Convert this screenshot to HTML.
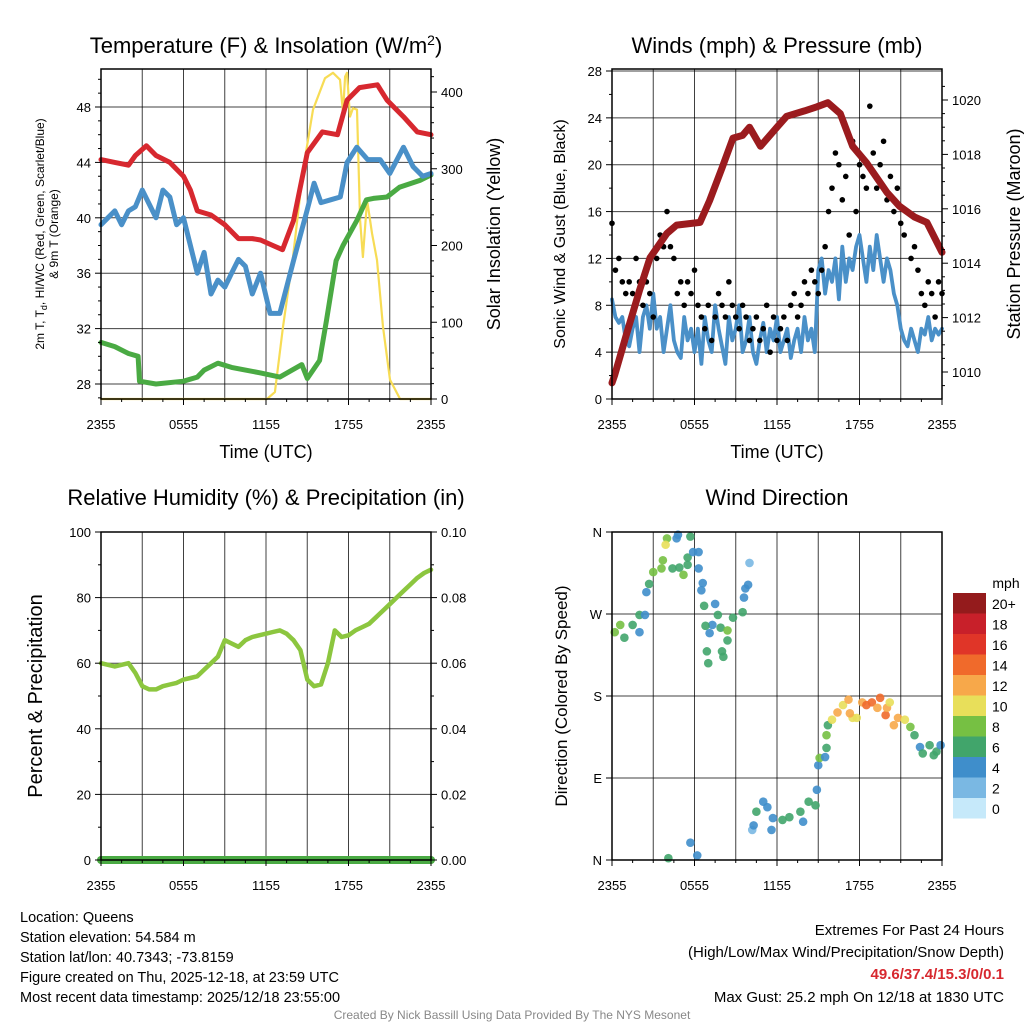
<!DOCTYPE html>
<html><head><meta charset="utf-8"><style>
body{margin:0;background:#fff;}
svg{display:block;font-family:"Liberation Sans",sans-serif;}
</style></head><body>
<svg id="c" width="1024" height="1024" viewBox="0 0 1024 1024"></svg>
<script>
// ---- Temperature panel data ----
const tT=[0,1,2,2.5,3.3,4,5,6,6.5,7,8,9,10,11,11.6,12.5,13.2,14,15,16.1,17.2,17.9,18.8,20.1,20.8,22,23,24];
const tempF=[44.2,44,43.8,44.5,45.2,44.5,44,43,42,40.5,40.2,39.5,38.5,38.5,38.4,38,37.7,39.8,44.7,46.2,46,48.5,49.4,49.6,48.5,47.3,46.2,46];
const tB=[0,0.5,1,1.5,2,2.5,3,3.5,4,4.5,5,5.5,6,6.5,7,7.5,8,8.5,9,9.5,10,10.5,11,11.6,12.3,13,14,15,15.5,16,16.7,17.4,17.9,18.6,19.4,20.3,21,22,22.7,23.4,24];
const chillF=[39.5,40,40.5,39.5,40.5,40.8,42,41,40,42,41.5,39.5,40,38,36,37.5,34.5,35.5,35,36,37,36.5,34.5,36,33.1,33.1,36.9,40.6,42.5,41.1,41.3,41.5,44,45.1,44.2,44.2,43.2,45.1,43.7,43,43.2];
const tD=[0,1,2,2.7,2.8,4,6,7,7.5,8.5,9.5,10.5,11.6,13,14.6,15,15.9,16.4,17.1,17.6,18.6,19.3,19.8,20.8,21.7,23.2,24];
const dewF=[31,30.7,30.2,30,28.2,28,28.2,28.5,29,29.5,29.2,29,28.8,28.5,29.4,28.4,29.7,32.6,36.9,38,39.8,41.3,41.4,41.5,42.2,42.7,43.1];
const tS=[0,12.07,12.65,13.24,13.96,14.69,15.42,16.29,16.87,17.38,17.6,17.75,17.89,18.11,18.33,18.62,18.84,19.05,19.35,19.71,20.07,20.51,21.02,21.75,24];
const solar=[0,0,9,94,185,298,377,418,425,416,373,420,425,368,379,377,233,185,259,216,181,94,25,0,0];
const tempTicks=[28,32,36,40,44,48];
const solarTicks=[0,100,200,300,400];
const timeTickLabels=["2355","0555","1155","1755","2355"];
// ---- Wind panel data (15-min) ----
const wind=[8.5,7,6.5,7,5,4.5,6,7,4,7,8,6,9,6,7,4,6,8,5,4,3.5,7,5,6,4,6,3,7,5,4,8,6,4.5,3,7,5,6,8,4,5,7,4,3,5,6.5,4,6,5,7,4,5,6,3.5,5,6,4,7,5,6,4,11,12,9,11,10,12,8.5,13,10,12,11,13,14,12,10,13,11,14,12,10,12,11,9,8,6,5,4.5,6,5,4,6,5.5,7,5,6,5.5,6];
const gust=[15,11,12,10,9,10,9,12,10,8,10,9,7,12,14,13,16,13,12,9,10,8,10,9,11,8,7,6,8,5,7,9,8,7,10,8,7,6,8,7,5,6,7,5,6,8,4,7,5,6,7,5,8,9,7,8,10,9,11,10,9,11,13,16,18,21,20,17,19,14,22,16,20,19,18,25,21,18,20,22,17,19,16,18,15,14,16,12,13,11,9,8,10,9,7,10,9];
const tP=[0,0.2,1,2,2.76,4,4.7,6.4,7.1,8,8.8,9.5,10,10.8,12,12.7,14,14.9,15.7,16.6,17.5,18.5,20,20.9,22,22.9,24];
const pressure=[1009.6,1009.9,1011.3,1013,1014.2,1015.1,1015.4,1015.5,1016.3,1017.5,1018.6,1018.7,1019,1018.3,1019,1019.4,1019.6,1019.75,1019.9,1019.5,1018.3,1017.7,1016.6,1016.1,1015.7,1015.5,1014.4];
const windTicks=[0,4,8,12,16,20,24,28];
const presTicks=[1010,1012,1014,1016,1018,1020];
// ---- RH panel data (30-min) ----
const rh=[60,59.5,59,59.5,60,57,53,52,52,53,53.5,54,55,55.5,56,58,60,62,67,66,65,67,68,68.5,69,69.5,70,69,67,64,55,53,53.5,60,70,68,68.5,70,71,72,74,76,78,80,82,84,86,87.5,88.5];
const precip=[0,0,0,0,0,0,0,0,0,0,0,0,0,0,0,0,0,0,0,0,0,0,0,0,0];
const rhTicks=[0,20,40,60,80,100];
const precipTicks=["0.00","0.02","0.04","0.06","0.08","0.10"];
// ---- Wind direction data ----
const dirT=[0.2,0.6,0.9,1.5,2,2.4,2,2.5,2.7,3,3.6,3.7,4,3.9,4.4,4.7,4.8,4.9,5.2,5.5,5.5,5.7,5.9,6.3,6.3,6.6,6.5,7.5,6.7,7.7,7.3,6.8,7.1,7.9,8.4,8.4,6.9,7,8,8.1,8.8,9.5,9.6,9.7,9.9,10,5.7,6.2,4.1,10.2,10.3,10.5,11,11.3,11.7,11.6,12.4,12.9,13.7,13.9,14.3,14.8,14.9,15,15.1,15.5,15.6,15.6,15.7,16,16.4,16.8,17.2,17.5,17.8,17.3,18.2,18.5,18.9,19.5,19.3,19.9,20,20.2,20.5,20.8,21.3,21.7,22,22.4,22.6,23.1,23.6,23.9,23.4];
const dirDeg=[250,258,244,258,269,269,250,294,303,316,320,329,353,346,320,353,357,321,313,324,332,355,338,338,320,304,296,281,279,269,258,257,249,255,252,241,229,216,229,223,266,272,288,298,302,326,19,5,2,33,38,53,64,58,46,33,44,47,53,42,64,60,77,104,112,113,123,137,148,154,162,170,176,156,156,161,173,170,173,178,167,159,167,173,148,156,154,146,137,124,117,126,119,126,115];
const dirSpd=[7,8,6,6,5,4,4,4,6,7,8,8,7,10,6,4,4,6,8,6,6,6,4,4,4,4,4,4,6,6,4,6,4,6,8,6,6,6,6,6,6,6,4,4,4,2,4,4,6,2,4,6,4,4,4,4,6,6,6,4,6,6,4,4,8,4,6,8,6,10,12,10,12,10,10,12,12,14,14,14,12,14,12,10,12,12,10,8,6,4,6,6,6,4,6];
const cbLabels=["20+","18","16","14","12","10","8","6","4","2","0"];

const NS="http://www.w3.org/2000/svg";
const svg=document.getElementById('c');
function mk(tag,attrs,parent){const e=document.createElementNS(NS,tag);for(const k in attrs)e.setAttribute(k,attrs[k]);(parent||svg).appendChild(e);return e;}
function txt(s,x,y,size,anchor,parent,extra){const e=mk('text',Object.assign({x:x,y:y,'font-size':size,'text-anchor':anchor||'middle',fill:'#000'},extra||{}),parent);e.textContent=s;return e;}
const SPDCOL=["#c6e9fa","#7ab8e3","#3f8ecb","#41a56b","#76c043","#e8df5a","#f7a84a","#f06a2b","#e03528","#c8202a","#941b1c"];
function spdColor(s){return SPDCOL[Math.min(10,Math.round(s/2))];}

function panel(name,x0,y0,x1,y1){
  const g=mk('g',{},svg);
  
  
  const xs=h=>x0+(x1-x0)*h/24;
  return {g,x0,y0,x1,y1,xs};
}
function lin(d0,d1,p0,p1){return v=>p0+(v-d0)*(p1-p0)/(d1-d0);}
function grid(P,ys,yvals){
  const gg=mk('g',{},P.g);
  
  
  for(let h=3;h<24;h+=3){const x=P.xs(h);mk('line',{x1:x,x2:x,y1:P.y0,y2:P.y1,stroke:'#000','stroke-width':1,'stroke-opacity':0.75},gg);}
  yvals.forEach(v=>{const y=ys(v);mk('line',{x1:P.x0,x2:P.x1,y1:y,y2:y,stroke:'#000','stroke-width':1,'stroke-opacity':0.75},gg);});
}
function frame(P){
  const r=mk('rect',{x:P.x0,y:P.y0,width:P.x1-P.x0,height:P.y1-P.y0,fill:'none',stroke:'#000','stroke-width':1.5},P.g);
  
  
}
function xAxis(P){
  const g=mk('g',{},P.g);
  
  
  for(let h=0;h<=24;h+=1.5){const x=P.xs(h);const big=(h%6===0);mk('line',{x1:x,x2:x,y1:P.y1,y2:P.y1+(big?6:3),stroke:'#000'},g);}
  timeTickLabels.forEach((s,i)=>txt(s,P.xs(i*6),P.y1+30,13,'middle',g));
}
function yAxisL(P,ys,vals,labels,minor){
  const g=mk('g',{},P.g);
  
  
  vals.forEach((v,i)=>{const y=ys(v);mk('line',{x1:P.x0-6,x2:P.x0,y1:y,y2:y,stroke:'#000'},g);txt(labels[i],P.x0-10,y+5,13,'end',g);});
  (minor||[]).forEach(v=>{const y=ys(v);mk('line',{x1:P.x0-3,x2:P.x0,y1:y,y2:y,stroke:'#000'},g);});
}
function yAxisR(P,ys,vals,labels,minor){
  const g=mk('g',{},P.g);
  
  
  vals.forEach((v,i)=>{const y=ys(v);mk('line',{x1:P.x1,x2:P.x1+6,y1:y,y2:y,stroke:'#000'},g);txt(labels[i],P.x1+10,y+5,13,'start',g);});
  (minor||[]).forEach(v=>{const y=ys(v);mk('line',{x1:P.x1,x2:P.x1+3,y1:y,y2:y,stroke:'#000'},g);});
}
function line(P,ts,vs,ys,color,w,name){
  const d=ts.map((t,i)=>(i?'L':'M')+P.xs(t).toFixed(1)+','+ys(vs[i]).toFixed(1)).join('');
  const p=mk('path',{d:d,fill:'none',stroke:color,'stroke-width':w,'stroke-linejoin':'round','stroke-linecap':'round'},P.g);
  
  
}
function rotLabel(s,x,y,size,parent,name){
  const e=txt(s,x,y,size,'middle',parent,{transform:`rotate(-90 ${x} ${y})`});
  
  
  return e;
}
function range(a,b,s){const r=[];for(let v=a;v<=b+1e-9;v+=s)r.push(v);return r;}

// ===== Panel 1 =====
{
const P=panel('temperature-panel',101,69,431,399);
const yT=lin(28,48,384,107), yS=lin(0,400,399,92);
grid(P,yT,tempTicks);
line(P,tS,solar,yS,'#f7dc55',2.2,'solar-insolation-line');
line(P,tD,dewF,yT,'#4aaa43',5,'dewpoint-line');
line(P,tB,chillF,yT,'#4a90c8',5,'windchill-line');
line(P,tT,tempF,yT,'#d7282f',5,'temperature-line');
frame(P);xAxis(P);
yAxisL(P,yT,tempTicks,tempTicks.map(String),range(27,50,1).filter(v=>v%4))
yAxisR(P,yS,solarTicks,solarTicks.map(String),range(20,420,20).filter(v=>v%100));
const t=txt('',266,53,22,'middle',P.g);t.innerHTML='Temperature (F) &amp; Insolation (W/m<tspan dy="-8" font-size="14">2</tspan><tspan dy="8">)</tspan>';

txt('Time (UTC)',266,458,18,'middle',P.g);
const lg=mk('text',{x:0,y:0,'font-size':12,'text-anchor':'middle',transform:'translate(44 234) rotate(-90)'},P.g);

lg.innerHTML='<tspan x="0" dy="0">2m T, T<tspan font-size="9" dy="3">d</tspan><tspan dy="-3">, HI/WC (Red, Green, Scarlet/Blue)</tspan></tspan><tspan x="0" dy="14">&amp; 9m T (Orange)</tspan>';
rotLabel('Solar Insolation (Yellow)',500,234,18,P.g,'right-y-axis-title');
}
// ===== Panel 2 =====
{
const P=panel('winds-pressure-panel',612,69,942,399);
const yW=lin(0,28,399,71), yP=lin(1010,1020,372,100);
grid(P,yW,windTicks);
const tw=wind.map((_,i)=>i*0.25);
line(P,tw,wind,yW,'#4a90c8',3.8,'sonic-wind-line');
const gg=mk('g',{},P.g);
gust.forEach((v,i)=>{mk('circle',{cx:P.xs(i*0.25),cy:yW(v),r:2.8,fill:'#000'},gg);});
line(P,tP,pressure,yP,'#9b1b1e',7,'station-pressure-line');
frame(P);xAxis(P);
yAxisL(P,yW,windTicks,windTicks.map(String),range(2,26,4));
yAxisR(P,yP,presTicks,presTicks.map(String),range(1009.5,1020.5,0.5).filter(v=>Math.abs(v%2)>1e-6));
txt('Winds (mph) & Pressure (mb)',777,53,22,'middle',P.g);
txt('Time (UTC)',777,458,18,'middle',P.g);
rotLabel('Sonic Wind & Gust (Blue, Black)',565,234,16,P.g,'left-y-axis-title');
rotLabel('Station Pressure (Maroon)',1020,234,18,P.g,'right-y-axis-title');
}
// ===== Panel 3 =====
{
const P=panel('humidity-panel',101,532,431,860);
const yR=lin(0,100,860,532), yPr=lin(0,0.1,860,532);
grid(P,yR,rhTicks);
const tr=rh.map((_,i)=>i*0.5);
line(P,tr,rh,yR,'#8cc63f',4.5,'relative-humidity-line');
line(P,precip.map((_,i)=>i),precip,yPr,'#4aaa43',8,'precipitation-line');
frame(P);xAxis(P);
yAxisL(P,yR,rhTicks,rhTicks.map(String),range(10,90,20));
yAxisR(P,yR,rhTicks,precipTicks,range(10,90,20));
txt('Relative Humidity (%) & Precipitation (in)',266,505,22,'middle',P.g);
rotLabel('Percent & Precipitation',42,696,20,P.g,'left-y-axis-title');
}
// ===== Panel 4 =====
{
const P=panel('wind-direction-panel',612,532,942,860);
const yD=lin(0,360,860,532);
grid(P,yD,[90,180,270]);
const dg=mk('g',{},P.g);
dirT.forEach((t,i)=>{mk('circle',{cx:P.xs(t),cy:yD(dirDeg[i]),r:4.3,fill:spdColor(dirSpd[i]),'fill-opacity':0.9},dg);});
frame(P);xAxis(P);
yAxisL(P,yD,[0,90,180,270,360],['N','E','S','W','N']);
txt('Wind Direction',777,505,22,'middle',P.g);
rotLabel('Direction (Colored By Speed)',567,696,17,P.g,'left-y-axis-title');
const cb=mk('g',{},svg);
txt('mph',1006,588,14,'middle',cb);
cbLabels.forEach((s,i)=>{const y=593+i*20.5;mk('rect',{x:953,y:y,width:33,height:20.5,fill:SPDCOL[10-i]},cb);txt(s,992,y+16,14,'start',cb);});
}
// ===== Footer text =====
const info=mk('g',{},svg);
["Location: Queens","Station elevation: 54.584 m","Station lat/lon: 40.7343; -73.8159","Figure created on Thu, 2025-12-18, at 23:59 UTC","Most recent data timestamp: 2025/12/18 23:55:00"].forEach((s,i)=>txt(s,20,922+i*20,14.5,'start',info));
const ex=mk('g',{},svg);
txt('Extremes For Past 24 Hours',1004,935,15,'end',ex);
txt('(High/Low/Max Wind/Precipitation/Snow Depth)',1004,957,15,'end',ex);
txt('49.6/37.4/15.3/0/0.1',1004,979,15,'end',ex,{fill:'#d7282f','font-weight':'bold'});
txt('Max Gust: 25.2 mph On 12/18 at 1830 UTC',1004,1002,15,'end',ex);
txt('Created By Nick Bassill Using Data Provided By The NYS Mesonet',512,1019,12,'middle',svg,{fill:'#888'});
</script>
</body></html>
